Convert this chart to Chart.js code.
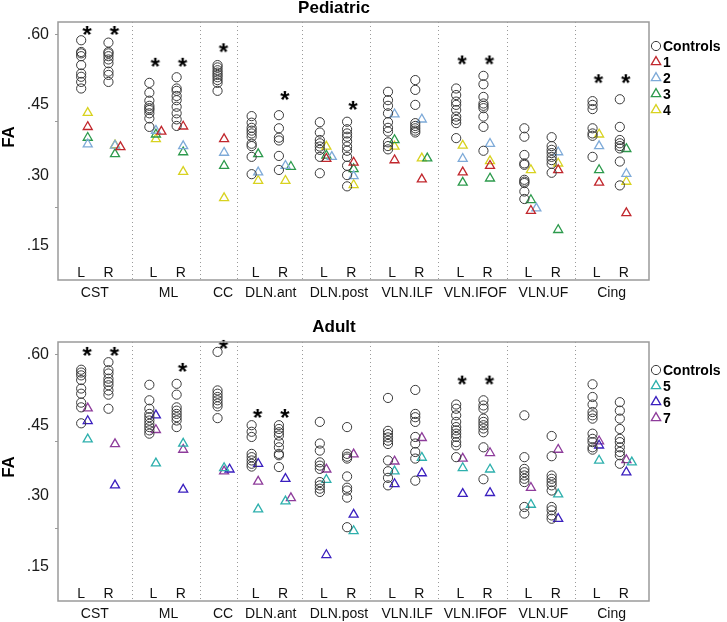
<!DOCTYPE html>
<html>
<head>
<meta charset="utf-8">
<title>FA per tract</title>
<script src="https://cdn.jsdelivr.net/npm/chart.js@4.4.0/dist/chart.umd.min.js"></script>
<style>
  body { margin: 0; background: #fff; }
  canvas { display: block; }
</style>
</head>
<body>
<canvas id="pediatricChart" width="727" height="311"></canvas>
<canvas id="adultChart" width="727" height="311"></canvas>
<script>
// tracts, in plotting order (CC has no L/R)
const tracts = ['CST', 'ML', 'CC', 'DLN.ant', 'DLN.post', 'VLN.ILF', 'VLN.IFOF', 'VLN.UF', 'Cing'];
const yTickValues = [0.15, 0.30, 0.45, 0.60];
const yTickMarks = [0.23, 0.415, 0.60];

// Pediatric: one list of control FA values per column
// columns: CST L,R | ML L,R | CC | DLN.ant L,R | DLN.post L,R | ILF L,R | IFOF L,R | UF L,R | Cing L,R
const pedControls = [
  [0.588, 0.563, 0.560, 0.554, 0.535, 0.517, 0.510, 0.499, 0.485],
  [0.583, 0.563, 0.560, 0.554, 0.547, 0.539, 0.521, 0.514, 0.499],
  [0.497, 0.476, 0.459, 0.448, 0.443, 0.439, 0.432, 0.421, 0.403],
  [0.509, 0.485, 0.480, 0.469, 0.460, 0.446, 0.432, 0.419, 0.405],
  [0.535, 0.530, 0.524, 0.519, 0.514, 0.509, 0.503, 0.497, 0.480],
  [0.426, 0.412, 0.401, 0.395, 0.389, 0.382, 0.367, 0.362, 0.339, 0.302],
  [0.428, 0.400, 0.380, 0.374, 0.341, 0.311],
  [0.413, 0.391, 0.375, 0.368, 0.361, 0.354, 0.339, 0.304],
  [0.414, 0.398, 0.389, 0.382, 0.372, 0.361, 0.352, 0.339, 0.320, 0.300, 0.276],
  [0.478, 0.460, 0.448, 0.432, 0.413, 0.401, 0.393, 0.370, 0.362, 0.355],
  [0.503, 0.482, 0.450, 0.411, 0.405, 0.400, 0.395, 0.391],
  [0.485, 0.471, 0.457, 0.450, 0.439, 0.425, 0.418, 0.411, 0.379],
  [0.512, 0.494, 0.467, 0.453, 0.448, 0.443, 0.425, 0.403, 0.352],
  [0.400, 0.382, 0.343, 0.325, 0.322, 0.290, 0.286, 0.283, 0.265, 0.249],
  [0.381, 0.362, 0.354, 0.347, 0.339, 0.332, 0.324, 0.305],
  [0.458, 0.450, 0.441, 0.400, 0.389, 0.384, 0.339],
  [0.462, 0.403, 0.375, 0.368, 0.362, 0.357, 0.329, 0.278]
];
const pedP1 = [0.403, 0.360, 0.393, 0.404, 0.377, null, null, 0.335, 0.327, 0.332, 0.291, 0.306, 0.320, 0.224, 0.311, 0.284, 0.219];
const pedP2 = [0.366, 0.363, 0.395, 0.362, 0.348, 0.306, 0.320, 0.339, 0.298, 0.430, 0.419, 0.335, 0.367, 0.229, 0.349, 0.362, 0.303];
const pedP3 = [0.380, 0.345, 0.387, 0.349, 0.320, 0.345, 0.318, 0.342, 0.313, 0.375, 0.336, 0.284, 0.293, 0.247, 0.183, 0.311, 0.356];
const pedP4 = [0.433, 0.364, 0.377, 0.307, 0.251, 0.288, 0.288, 0.361, 0.279, 0.361, 0.336, 0.363, 0.330, 0.311, 0.325, 0.387, 0.286];
const pedStars = [0.610, 0.610, 0.542, 0.542, 0.573, null, 0.471, null, 0.450, null, null, 0.547, 0.547, null, null, 0.507, 0.507];

// Adult
const adultControls = [
  [0.568, 0.562, 0.556, 0.546, 0.528, 0.517, 0.498, 0.488, 0.454],
  [0.584, 0.567, 0.560, 0.549, 0.542, 0.535, 0.524, 0.515, 0.485],
  [0.536, 0.503, 0.485, 0.474, 0.467, 0.460, 0.453, 0.446, 0.439, 0.432],
  [0.538, 0.515, 0.488, 0.481, 0.474, 0.467, 0.460, 0.446],
  [0.606, 0.524, 0.517, 0.510, 0.503, 0.496, 0.490, 0.465],
  [0.450, 0.436, 0.425, 0.389, 0.382, 0.375, 0.368, 0.362],
  [0.450, 0.442, 0.435, 0.428, 0.414, 0.403, 0.389, 0.386, 0.361],
  [0.457, 0.411, 0.396, 0.371, 0.364, 0.357, 0.329, 0.322, 0.315, 0.308],
  [0.446, 0.389, 0.383, 0.379, 0.341, 0.317, 0.311, 0.296, 0.233],
  [0.508, 0.438, 0.431, 0.424, 0.417, 0.410, 0.375, 0.352, 0.338, 0.322],
  [0.525, 0.474, 0.467, 0.457, 0.425, 0.411, 0.393, 0.379, 0.332],
  [0.494, 0.485, 0.471, 0.457, 0.446, 0.439, 0.432, 0.425, 0.414, 0.407, 0.382],
  [0.503, 0.492, 0.485, 0.464, 0.457, 0.450, 0.443, 0.435, 0.403, 0.335],
  [0.471, 0.382, 0.357, 0.350, 0.343, 0.336, 0.329, 0.276, 0.262],
  [0.427, 0.384, 0.343, 0.336, 0.329, 0.322, 0.311, 0.276, 0.269, 0.258, 0.251],
  [0.537, 0.510, 0.494, 0.478, 0.471, 0.464, 0.432, 0.421, 0.414, 0.403, 0.398],
  [0.499, 0.481, 0.464, 0.442, 0.421, 0.414, 0.403, 0.393, 0.386, 0.368]
];
const adultP5 = [0.420, null, 0.369, 0.411, 0.359, 0.271, 0.288, 0.334, 0.225, 0.352, 0.381, 0.359, 0.356, 0.281, 0.303, 0.375, 0.371];
const adultP6 = [0.459, 0.322, 0.471, 0.313, 0.356, 0.368, 0.336, 0.174, 0.260, 0.325, 0.348, 0.304, 0.306, null, 0.251, 0.407, 0.350];
const adultP7 = [0.486, 0.410, 0.440, 0.398, 0.352, 0.330, 0.295, 0.356, 0.388, 0.373, 0.423, 0.379, 0.391, 0.317, 0.398, 0.416, 0.376];
const adultStars = [0.608, 0.608, null, 0.574, 0.623, 0.476, 0.476, null, null, null, null, 0.547, 0.547, null, null, null, null];

// column layout: L and R one unit apart, tracts 2.5 units apart
const colPos = [], colSide = [], colTract = [];
let pos = 0;
tracts.forEach((t, ti) => {
  const sides = t === 'CC' ? [''] : ['L', 'R'];
  sides.forEach((s, k) => { colPos.push(pos + k); colSide.push(s); colTract.push(ti); });
  pos += t === 'CC' ? 1.25 : 2.5;
});
const triOffset = 0.24;   // patients plotted just right of controls
const dodgeStep = 0.2;    // side-by-side triangles with equal values
const tractCols = tracts.map((t, ti) => colPos.filter((p, i) => colTract[i] === ti));
const groupCenters = tractCols.map((c, ti) => c.reduce((a, b) => a + b, 0) / c.length + (ti === 0 ? 0 : 0.2));
const separators = tractCols.slice(1).map((c, i) => (tractCols[i][tractCols[i].length - 1] + triOffset + c[0]) / 2);
const xMin = -0.85, xMax = 20.82, yMin = 0.076, yMax = 0.627;

Chart.defaults.font.family = '"Liberation Sans", Arial, Helvetica, sans-serif';

function makeStar() {
  const c = document.createElement('canvas');
  c.width = 22; c.height = 22;
  const g = c.getContext('2d');
  g.font = 'bold 24px "Liberation Sans", Arial, sans-serif';
  g.textAlign = 'center';
  g.textBaseline = 'alphabetic';
  const m = g.measureText('*');
  g.fillStyle = '#000';
  g.fillText('*', 11, 11 + (m.actualBoundingBoxAscent - m.actualBoundingBoxDescent) / 2);
  return c;
}
const starImg = makeStar();

function drawSymbol(ctx, style, x, y, r) {
  ctx.beginPath();
  if (style === 'circle') {
    ctx.arc(x, y, r, 0, Math.PI * 2);
  } else {
    ctx.moveTo(x, y - r);
    ctx.lineTo(x + r * 0.866, y + r / 2);
    ctx.lineTo(x - r * 0.866, y + r / 2);
    ctx.closePath();
  }
  ctx.stroke();
}

// title, FA label, frame, L/R labels and legend
const decorPlugin = {
  id: 'decor',
  afterDraw(chart, args, o) {
    const { ctx, chartArea: a } = chart;
    const xs = chart.scales.x;
    ctx.save();
    ctx.strokeStyle = '#9a9a9a';
    ctx.lineWidth = 1.5;
    ctx.strokeRect(a.left, a.top, a.right - a.left, a.bottom - a.top);

    ctx.fillStyle = '#000';
    ctx.textAlign = 'center';
    ctx.textBaseline = 'middle';
    ctx.font = 'bold 17px "Liberation Sans", Arial, sans-serif';
    ctx.fillText(o.title, o.titleX, o.titleY);

    ctx.save();
    ctx.translate(9, o.faY);
    ctx.rotate(-Math.PI / 2);
    ctx.fillText('FA', 0, 0);
    ctx.restore();

    ctx.font = '14px "Liberation Sans", Arial, sans-serif';
    ctx.fillStyle = '#111';
    colSide.forEach((s, i) => {
      if (s) ctx.fillText(s, xs.getPixelForValue(colPos[i] + (colTract[i] === 0 ? 0 : 0.15)), a.bottom - 7);
    });

    // legend
    ctx.textAlign = 'left';
    ctx.font = 'bold 14px "Liberation Sans", Arial, sans-serif';
    o.legend.forEach((item, k) => {
      const y = o.legendTop + k * 16;
      ctx.strokeStyle = item.color;
      ctx.lineWidth = item.style === 'circle' ? 1 : 1.3;
      drawSymbol(ctx, item.style, 656, y, item.style === 'circle' ? 4.6 : 5.4);
      ctx.fillStyle = '#000';
      ctx.fillText(item.label, 663, y + 1);
    });
    ctx.restore();
  }
};

function buildChart(canvasId, panel) {
  const datasets = [{
    label: 'Controls',
    data: panel.controls.flatMap((vals, i) => vals.map(v => ({ x: colPos[i], y: v }))),
    pointStyle: 'circle',
    pointRadius: 4.6,
    borderWidth: 1,
    borderColor: '#3a3a3a',
    backgroundColor: 'rgba(0,0,0,0)'
  }];
  panel.patients.forEach(p => {
    datasets.push({
      label: p.label,
      data: p.values
        .map((v, i) => v == null ? null : { x: colPos[i] + triOffset + (p.dodge.includes(i) ? dodgeStep : 0), y: v })
        .filter(d => d),
      pointStyle: 'triangle',
      pointRadius: 5.2,
      borderWidth: 1.3,
      borderColor: p.color,
      backgroundColor: 'rgba(0,0,0,0)'
    });
  });
  datasets.push({
    label: 'significant',
    data: panel.stars.map((v, i) => v == null ? null : { x: colPos[i] + 0.22, y: v }).filter(d => d),
    pointStyle: starImg,
    pointRadius: 8,
    clip: false
  });
  datasets.forEach(d => { d.xAxisID = 'x'; d.yAxisID = 'y'; d.showLine = false; });

  const legend = [{ label: 'Controls', color: '#3a3a3a', style: 'circle' }]
    .concat(panel.patients.map(p => ({ label: p.label, color: p.color, style: 'triangle' })));

  return new Chart(document.getElementById(canvasId), {
    type: 'scatter',
    data: { datasets },
    plugins: [decorPlugin],
    options: {
      responsive: false,
      animation: false,
      events: [],
      layout: { autoPadding: false, padding: { top: panel.padTop, right: 78, bottom: 0, left: 0 } },
      plugins: {
        legend: { display: false },
        tooltip: { enabled: false },
        decor: {
          title: panel.title, titleX: 334, titleY: panel.titleY,
          faY: panel.faY, legendTop: panel.legendTop, legend
        }
      },
      scales: {
        x: {
          type: 'linear', position: 'bottom', min: xMin, max: xMax,
          afterBuildTicks: s => { s.ticks = groupCenters.map(v => ({ value: v })); },
          afterFit: s => { s.height = panel.xAxisHeight; },
          grid: { display: false, drawTicks: false },
          border: { display: false },
          ticks: {
            autoSkip: false, maxRotation: 0, padding: 5, color: '#111', font: { size: 14 },
            callback: (v, i) => tracts[i]
          }
        },
        sep: {
          type: 'linear', position: 'bottom', min: xMin, max: xMax,
          afterBuildTicks: s => { s.ticks = separators.map(v => ({ value: v })); },
          afterFit: s => { s.height = 0; },
          grid: { color: '#9a9a9a', lineWidth: 1, drawTicks: false },
          border: { display: false, dash: [1, 3] },
          ticks: { display: false }
        },
        y: {
          type: 'linear', position: 'left', weight: 1, min: yMin, max: yMax,
          afterBuildTicks: s => { s.ticks = yTickValues.map(v => ({ value: v })); },
          afterFit: s => { s.width = 55; },
          grid: { display: false, drawTicks: false },
          border: { display: false },
          ticks: {
            padding: 6, color: '#1a1a1a', font: { size: 16 },
            callback: v => v.toFixed(2).replace(/^0/, '')
          }
        },
        yMinor: {
          type: 'linear', position: 'left', weight: 0, min: yMin, max: yMax,
          afterBuildTicks: s => { s.ticks = yTickMarks.map(v => ({ value: v })); },
          afterFit: s => { s.width = 3; },
          grid: { drawOnChartArea: false, tickLength: 3, color: '#9a9a9a' },
          border: { display: false },
          ticks: { display: false }
        }
      }
    }
  });
}

buildChart('pediatricChart', {
  title: 'Pediatric', titleY: 8, faY: 137, legendTop: 46,
  padTop: 22, xAxisHeight: 31,
  controls: pedControls, stars: pedStars,
  patients: [
    { label: '1', color: '#c1272d', values: pedP1, dodge: [1, 2] },
    { label: '2', color: '#7eaad8', values: pedP2, dodge: [7, 13] },
    { label: '3', color: '#2c9a4c', values: pedP3, dodge: [6, 10] },
    { label: '4', color: '#d8d220', values: pedP4, dodge: [] }
  ]
});

buildChart('adultChart', {
  title: 'Adult', titleY: 16, faY: 156, legendTop: 59,
  padTop: 31, xAxisHeight: 21,
  controls: adultControls, stars: adultStars,
  patients: [
    { label: '5', color: '#2eb0ad', values: adultP5, dodge: [16] },
    { label: '6', color: '#3a1fbf', values: adultP6, dodge: [4] },
    { label: '7', color: '#8e3c9b', values: adultP7, dodge: [6] }
  ]
});
</script>
</body>
</html>
